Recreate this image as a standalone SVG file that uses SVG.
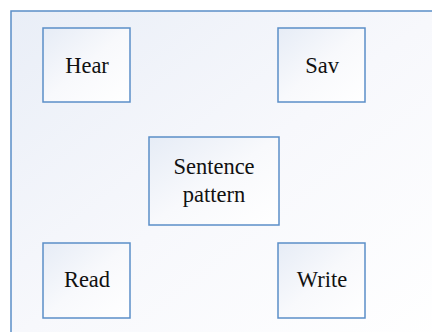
<svg xmlns="http://www.w3.org/2000/svg" width="432" height="332" viewBox="0 0 432 332">
<defs>
<linearGradient id="bg" x1="0" y1="0" x2="1" y2="1">
<stop offset="0" stop-color="#e9eef7"/>
<stop offset="0.5" stop-color="#f7f8fc"/>
<stop offset="1" stop-color="#ffffff"/>
</linearGradient>
<linearGradient id="bx" x1="0" y1="0" x2="1" y2="1">
<stop offset="0" stop-color="#e6ecf6"/>
<stop offset="0.5" stop-color="#f8f9fc"/>
<stop offset="1" stop-color="#ffffff"/>
</linearGradient>
<style>
.frame{fill:url(#bg);stroke:#5b8ec8;stroke-width:1.5}
.box{fill:url(#bx);stroke:#5b8ec8;stroke-width:1.5}
.t{font-family:'Liberation Serif','Times New Roman',serif;font-size:22.5px;fill:#111;text-anchor:middle}
</style>
</defs>
<rect class="frame" x="11" y="11" width="430" height="330"/>
<g id="connectors"></g>
<g id="hear"><rect class="box" x="43" y="28" width="87" height="74"/><text class="t" x="87" y="73">Hear</text></g>
<g id="sav"><rect class="box" x="278" y="28" width="87" height="74"/><text class="t" x="322" y="73">Sav</text></g>
<g id="sentence"><rect class="box" x="149" y="137" width="130" height="88"/><text class="t" x="214" y="174">Sentence</text><text class="t" x="214" y="201.5">pattern</text></g>
<g id="read"><rect class="box" x="43" y="243" width="87" height="75"/><text class="t" x="87" y="287">Read</text></g>
<g id="write"><rect class="box" x="278" y="243" width="87" height="75"/><text class="t" x="322" y="287">Write</text></g>
</svg>
